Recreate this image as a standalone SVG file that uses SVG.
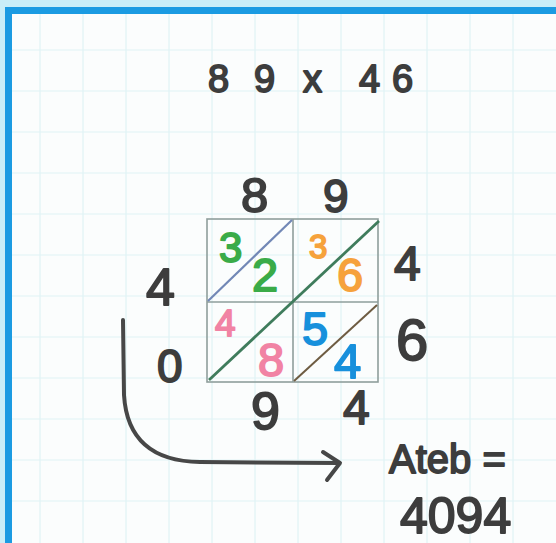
<svg xmlns="http://www.w3.org/2000/svg" width="556" height="543" viewBox="0 0 556 543">
<style>
.grid{stroke:#e0f3f6;stroke-width:1.2;fill:none}
.ink{font-family:"Liberation Sans",Arial,sans-serif;fill:#3d3d3d;stroke:#3d3d3d;stroke-width:1.8;stroke-linejoin:round}
.g{fill:#3aab48;stroke:#3aab48}
.o{fill:#f6a23c;stroke:#f6a23c}
.p{fill:#f183a4;stroke:#f183a4}
.b{fill:#1790dc;stroke:#1790dc}
.cell{fill:none;stroke:#8f9e9c;stroke-width:1.6}
.conn{fill:none;stroke:#474747;stroke-width:4;stroke-linecap:round;stroke-linejoin:round}
</style>
<rect x="0" y="0" width="556" height="543" fill="#c9eef8"/>
<rect x="5" y="7" width="551" height="536" fill="#fbfdfd"/>
<g class="grid">
<path d="M40 14V543M83 14V543M126 14V543M169 14V543M212 14V543M255 14V543M298 14V543M341 14V543M384 14V543M427 14V543M470 14V543M513 14V543"/>
<path d="M12 50H556M12 91H556M12 132H556M12 173H556M12 214H556M12 255H556M12 296H556M12 337H556M12 378H556M12 419H556M12 460H556M12 501H556"/>
</g>
<path d="M8.5 543V10.5H556" fill="none" stroke="#1b9be2" stroke-width="7"/>

<g id="title">
<text class="ink" font-size="38" x="208 254 290 303 340 359 392" y="92">89 x 46</text>
</g>

<g id="lattice">
<rect class="cell" x="207" y="219" width="171" height="163"/>
<path class="cell" d="M293 219V382M207 302H378"/>
<path d="M208 301L292 220" stroke="#7288b6" stroke-width="2.2" fill="none"/>
<path d="M209 380L379 221" stroke="#3f7c5c" stroke-width="2.8" fill="none"/>
<path d="M294 381L377 305" stroke="#6e5c42" stroke-width="2" fill="none"/>
<text class="ink g" font-size="42" x="219" y="262">3</text>
<text class="ink g" font-size="47" x="252" y="291">2</text>
<text class="ink o" font-size="33" x="309" y="258">3</text>
<text class="ink o" font-size="47" x="337" y="291">6</text>
<text class="ink p" font-size="37" x="215" y="336">4</text>
<text class="ink p" font-size="47" x="258" y="376">8</text>
<text class="ink b" font-size="47" x="302" y="345">5</text>
<text class="ink b" font-size="49" x="334" y="378">4</text>
</g>

<g id="top-digits">
<text class="ink" font-size="49" x="241" y="212">8</text>
<text class="ink" font-size="46" x="323" y="212">9</text>
</g>
<g id="left-digits">
<text class="ink" font-size="52" x="146" y="305">4</text>
<text class="ink" font-size="46" x="157" y="382">0</text>
</g>
<g id="right-digits">
<text class="ink" font-size="48" x="394" y="280">4</text>
<text class="ink" font-size="58" x="396" y="360">6</text>
</g>
<g id="bottom-digits">
<text class="ink" font-size="52" x="251" y="429">9</text>
<text class="ink" font-size="48" x="343" y="424">4</text>
</g>

<g id="answer">
<text class="ink" font-size="40" x="389" y="473">Ateb =</text>
<text class="ink" font-size="50" x="400" y="533">4094</text>
</g>

<g id="connectors">
<path class="conn" d="M123 320L124 395Q128 461 200 462L339 463"/>
<path class="conn" d="M323 452L340 463L327 480"/>
</g>
</svg>
